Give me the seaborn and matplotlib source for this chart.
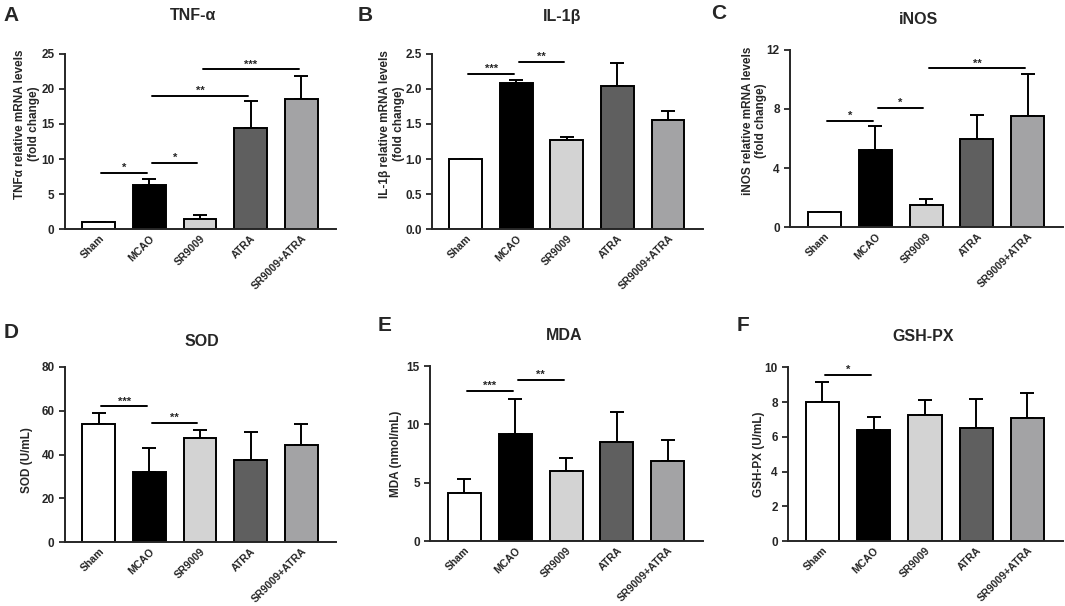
import matplotlib
matplotlib.use("Agg")
import matplotlib.pyplot as plt
import numpy as np
import pandas as pd
import seaborn as sns

# ---- data ----
groups = ["Sham", "MCAO", "SR9009", "ATRA", "SR9009+ATRA"]
bar_colors = ["#ffffff", "#000000", "#d3d3d3", "#5f5f5f", "#a2a2a6"]

tnf_mean = [1.0, 6.3, 1.5, 14.4, 18.6]
tnf_err = [0.0, 0.9, 0.5, 3.9, 3.2]
il1b_mean = [1.0, 2.09, 1.27, 2.04, 1.56]
il1b_err = [0.0, 0.04, 0.05, 0.33, 0.12]
inos_mean = [1.0, 5.2, 1.5, 5.95, 7.5]
inos_err = [0.0, 1.65, 0.4, 1.65, 2.9]
sod_mean = [54.0, 32.0, 47.5, 37.7, 44.5]
sod_err = [4.8, 11.0, 3.5, 12.6, 9.5]
mda_mean = [4.1, 9.2, 6.0, 8.5, 6.85]
mda_err = [1.2, 3.0, 1.1, 2.6, 1.8]
gsh_mean = [8.0, 6.4, 7.25, 6.5, 7.1]
gsh_err = [1.15, 0.75, 0.85, 1.65, 1.4]

# significance brackets: (from group, to group, height, label)
tnf_sig = [(0, 1, 8.0, "*"), (1, 2, 9.5, "*"), (1, 3, 19.0, "**"), (2, 4, 22.8, "***")]
il1b_sig = [(0, 1, 2.21, "***"), (1, 2, 2.39, "**")]
inos_sig = [(0, 1, 7.2, "*"), (1, 2, 8.05, "*"), (2, 4, 10.75, "**")]
sod_sig = [(0, 1, 62.0, "***"), (1, 2, 54.5, "**")]
mda_sig = [(0, 1, 12.85, "***"), (1, 2, 13.8, "**")]
gsh_sig = [(0, 1, 9.56, "*")]

panels = [
    # letter, title, ylabel, means, errs, sig, ticks, tick fmt, axes rect, letter pos, title pos, label pos
    ("A", "TNF-α", "TNFα relative mRNA levels\n(fold change)", tnf_mean, tnf_err, tnf_sig,
     [0, 5, 10, 15, 20, 25], "{:.0f}", [0.061, 0.622, 0.2545, 0.289], (0.003, 0.975), (0.181, 0.975), (-0.092, 0.60)),
    ("B", "IL-1β", "IL-1β relative mRNA levels\n(fold change)", il1b_mean, il1b_err, il1b_sig,
     [0.0, 0.5, 1.0, 1.5, 2.0, 2.5], "{:.1f}", [0.4056, 0.622, 0.2544, 0.289], (0.336, 0.975), (0.528, 0.972), (-0.10, 0.60)),
    ("C", "iNOS", "iNOS relative mRNA levels\n(fold change)", inos_mean, inos_err, inos_sig,
     [0, 4, 8, 12], "{:.0f}", [0.742, 0.6254, 0.256, 0.2921], (0.668, 0.978), (0.862, 0.968), (-0.084, 0.60)),
    ("D", "SOD", "SOD (U/mL)", sod_mean, sod_err, sod_sig,
     [0, 20, 40, 60, 80], "{:.0f}", [0.061, 0.1056, 0.2545, 0.2888], (0.003, 0.452), (0.190, 0.436), (-0.118, 0.47)),
    ("E", "MDA", "MDA (nmol/mL)", mda_mean, mda_err, mda_sig,
     [0, 5, 10, 15], "{:.0f}", [0.404, 0.107, 0.256, 0.289], (0.355, 0.463), (0.530, 0.447), (-0.103, 0.5)),
    ("F", "GSH-PX", "GSH-PX (U/mL)", gsh_mean, gsh_err, gsh_sig,
     [0, 2, 4, 6, 8, 10], "{:.0f}", [0.740, 0.107, 0.258, 0.287], (0.692, 0.463), (0.867, 0.445), (-0.084, 0.5)),
]

sns.set_style("ticks")
plt.rcParams["font.family"] = ["Liberation Sans", "DejaVu Sans"]
plt.rcParams["font.weight"] = "bold"

fig = plt.figure(figsize=(10.65, 6.06), dpi=100)

for letter, title, ylabel, means, errs, sig, ticks, fmt, rect, lpos, tpos, labpos in panels:
    ax = fig.add_axes(rect)
    df = pd.DataFrame({"group": groups, "value": means})
    sns.barplot(data=df, x="group", y="value", hue="group", palette=bar_colors,
                order=groups, hue_order=groups, legend=False, errorbar=None,
                width=0.65, edgecolor="black", linewidth=1.4, ax=ax, zorder=2)
    # upward-only error bars
    ax.errorbar(np.arange(len(groups)), means, yerr=[np.zeros(len(errs)), errs],
                fmt="none", ecolor="black", elinewidth=1.4, capsize=5, capthick=1.4, zorder=1)
    # significance brackets
    for a, b, h, lab in sig:
        ax.plot([a + 0.05, b - 0.05], [h, h], color="black", lw=1.4, zorder=3)
        ax.text((a + b) / 2, h, lab, ha="center", va="bottom", fontsize=8, fontweight="bold")

    ax.set_xlim(-0.67, 4.69)
    ax.set_ylim(ticks[0], ticks[-1])
    ax.set_yticks(ticks)
    ax.set_yticklabels([fmt.format(t) for t in ticks], fontsize=8.5, fontweight="bold")
    ax.set_xticks(range(len(groups)))
    ax.set_xticklabels(groups, rotation=45, ha="right", rotation_mode="anchor",
                       fontsize=7.6, fontweight="bold")
    ax.tick_params(axis="y", length=4, width=1.3)
    ax.tick_params(axis="x", length=0, pad=3)
    ax.set_xlabel("")
    ax.set_ylabel(ylabel, fontsize=8.5, fontweight="bold")
    ax.yaxis.set_label_coords(*labpos)
    sns.despine(ax=ax)
    for sp in ["left", "bottom"]:
        ax.spines[sp].set_linewidth(1.4)

    fig.text(lpos[0], lpos[1], letter, fontsize=15, fontweight="bold", va="center", ha="left")
    fig.text(tpos[0], tpos[1], title, fontsize=11.5, fontweight="bold", va="center", ha="center")

fig.savefig("out.png", dpi=100)
